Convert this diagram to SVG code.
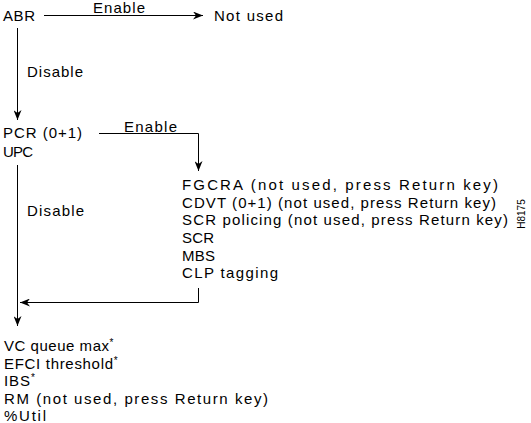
<svg xmlns="http://www.w3.org/2000/svg" width="531" height="423" viewBox="0 0 531 423">
<style>
text{font-family:"Liberation Sans",Arial,Helvetica,sans-serif;font-size:15px;fill:#000}
.c{fill:none;stroke:#000;stroke-width:1}
.sup{font-size:10px}
.id{font-size:10px}
</style>
<defs>
<marker id="ah" viewBox="0 0 10 8" refX="10" refY="4" markerWidth="10" markerHeight="8" markerUnits="userSpaceOnUse" orient="auto">
<path d="M0,0 L10,4 L0,8 L3,4 Z" fill="#000"/>
</marker>
</defs>
<rect width="531" height="423" fill="#fff"/>
<g id="connectors">
<line class="c" x1="44" y1="15.5" x2="203" y2="15.5" marker-end="url(#ah)"/>
<line class="c" x1="17.5" y1="28" x2="17.5" y2="120" marker-end="url(#ah)"/>
<path class="c" d="M99,133.5 H198.5 V171" marker-end="url(#ah)"/>
<line class="c" x1="17.5" y1="165" x2="17.5" y2="326" marker-end="url(#ah)"/>
<path class="c" d="M198.5,288 V302.5 H20" marker-end="url(#ah)"/>
<text x="93" y="13" textLength="52" lengthAdjust="spacing">Enable</text>
<text x="27" y="77" textLength="56" lengthAdjust="spacing">Disable</text>
<text x="124" y="132" textLength="53" lengthAdjust="spacing">Enable</text>
<text x="27" y="216" textLength="57" lengthAdjust="spacing">Disable</text>
</g>
<g id="abr"><text x="3" y="21" textLength="32" lengthAdjust="spacing">ABR</text></g>
<g id="notused"><text x="214" y="21" textLength="69" lengthAdjust="spacing">Not used</text></g>
<g id="pcr">
<text x="3" y="138" textLength="79" lengthAdjust="spacing">PCR (0+1)</text>
<text x="3" y="157" textLength="30" lengthAdjust="spacing">UPC</text>
</g>
<g id="params">
<text x="182" y="190" textLength="316" lengthAdjust="spacing">FGCRA (not used, press Return key)</text>
<text x="182" y="207.5" textLength="314" lengthAdjust="spacing">CDVT (0+1) (not used, press Return key)</text>
<text x="182" y="225" textLength="326" lengthAdjust="spacing">SCR policing (not used, press Return key)</text>
<text x="182" y="243" textLength="32" lengthAdjust="spacing">SCR</text>
<text x="182" y="260.5" textLength="33" lengthAdjust="spacing">MBS</text>
<text x="182" y="278" textLength="96" lengthAdjust="spacing">CLP tagging</text>
</g>
<g id="vc">
<text x="4" y="351"><tspan textLength="105" lengthAdjust="spacing">VC queue max</tspan><tspan class="sup" dy="-5">*</tspan></text>
<text x="4" y="368.5"><tspan textLength="109" lengthAdjust="spacing">EFCI threshold</tspan><tspan class="sup" dy="-5">*</tspan></text>
<text x="4" y="386"><tspan textLength="26" lengthAdjust="spacing">IBS</tspan><tspan class="sup" dy="-5">*</tspan></text>
<text x="4" y="403.5" textLength="264" lengthAdjust="spacing">RM (not used, press Return key)</text>
<text x="4" y="421" textLength="42" lengthAdjust="spacing">%Util</text>
</g>
<g id="figid"><text class="id" transform="translate(525,214) rotate(-90)" text-anchor="middle">H8175</text></g>
</svg>
